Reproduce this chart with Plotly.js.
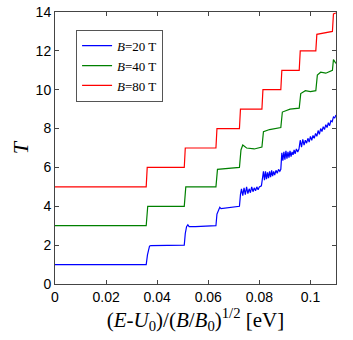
<!DOCTYPE html>
<html>
<head>
<meta charset="utf-8">
<script src="https://cdn.plot.ly/plotly-3.0.1.min.js"></script>
<style>
  html, body { margin: 0; padding: 0; background: #fff; }
  #chart { width: 353px; height: 340px; }
</style>
</head>
<body>
<div id="chart"></div>
<script>
// Transmission T vs scaled energy, three magnetic fields
const xRed = [0, 0.0357, 0.0361, 0.0506, 0.051, 0.063, 0.0634, 0.0722, 0.0726, 0.081, 0.0814,
  0.0884, 0.0888, 0.0956, 0.096, 0.1021, 0.1025, 0.106, 0.1086, 0.109, 0.11];
const yRed = [5, 5, 6, 6, 7, 7, 8, 8, 9, 9, 10,
  10, 11, 11, 12, 12, 12.85, 12.95, 13.0, 13.9, 13.95];

const xGreen = [0, 0.0357, 0.0363, 0.0506, 0.0512, 0.063, 0.0636, 0.068, 0.0722, 0.0728, 0.0735,
  0.075, 0.078, 0.081, 0.0816, 0.084, 0.0884, 0.089, 0.092, 0.0956, 0.0962, 0.098, 0.1,
  0.1021, 0.1027, 0.104, 0.106, 0.1086, 0.109, 0.11];
const yGreen = [3, 3, 4, 4, 5, 5, 5.9, 5.95, 6.0, 6.9, 7.15,
  7.0, 6.95, 7.05, 7.84, 7.95, 8.05, 8.85, 9.0, 9.05, 9.8, 9.95, 9.9,
  9.95, 10.75, 10.9, 10.85, 11.0, 11.55, 11.35];

const xBlue = [0, 0.0357, 0.0362, 0.0366, 0.037, 0.0375, 0.0506, 0.051, 0.0515, 0.052, 0.0525,
  0.055, 0.06, 0.063, 0.0634, 0.064, 0.0645, 0.065, 0.068, 0.0722, 0.0726, 0.073, 0.0735,
  0.074, 0.0745, 0.075, 0.0755, 0.076, 0.0765, 0.077, 0.0775, 0.078, 0.0785, 0.079, 0.0795,
  0.08, 0.0808, 0.0812, 0.0816, 0.082, 0.0824, 0.0828, 0.0832, 0.0836, 0.084, 0.0844, 0.0848,
  0.0852, 0.0856, 0.086, 0.0865, 0.087, 0.0875, 0.088, 0.0884, 0.0888, 0.0892, 0.0896, 0.09,
  0.0904, 0.0908, 0.0912, 0.0916, 0.092, 0.0924, 0.0928, 0.0932, 0.0936, 0.094, 0.0945, 0.095,
  0.0955, 0.096, 0.0965, 0.097, 0.0975, 0.098, 0.0985, 0.099, 0.0995, 0.1, 0.1005, 0.101,
  0.1015, 0.102, 0.1025, 0.103, 0.1035, 0.104, 0.1045, 0.105, 0.1055, 0.106, 0.1065, 0.107,
  0.1075, 0.108, 0.1085, 0.109, 0.1095, 0.11];
const yBlue = [1, 1, 1.5, 1.85, 1.95, 1.98, 2.0, 2.6, 2.95, 3.05, 2.95,
  2.95, 3.0, 3.0, 3.6, 3.85, 3.95, 3.88, 3.92, 4.0, 4.6, 4.9, 4.55,
  4.95, 4.6, 5.0, 4.65, 4.9, 4.7, 5.0, 4.75, 4.95, 4.8, 5.0, 4.85,
  5.0, 5.05, 5.4, 5.8, 5.35, 5.8, 5.4, 5.75, 5.45, 5.8, 5.5, 5.85,
  5.55, 5.8, 5.6, 5.85, 5.7, 5.9, 5.8, 5.9, 6.75, 6.35, 6.8, 6.4,
  6.85, 6.45, 6.8, 6.5, 6.85, 6.55, 6.8, 6.65, 6.9, 6.7, 6.95, 6.8,
  6.95, 7.4, 7.05, 7.45, 7.15, 7.4, 7.25, 7.5, 7.3, 7.6, 7.4, 7.65,
  7.5, 7.75, 7.6, 7.9, 7.7, 8.0, 7.85, 8.1, 7.95, 8.2, 8.05, 8.3,
  8.15, 8.4, 8.35, 8.6, 8.55, 8.7];

const seriesNames = ['<i>B</i>=20 T', '<i>B</i>=40 T', '<i>B</i>=80 T'];
const seriesColors = ['#0000ff', '#008000', '#ff0000'];
const xTicks = [0, 0.02, 0.04, 0.06, 0.08, 0.1];
const yTicks = [0, 2, 4, 6, 8, 10, 12, 14];

const xs = [xBlue, xGreen, xRed];
const ys = [yBlue, yGreen, yRed];

const traces = xs.map((x, i) => ({
  type: 'scatter',
  mode: 'lines',
  x: x,
  y: ys[i],
  name: seriesNames[i],
  line: { color: seriesColors[i], width: 1.2 }
}));

const axisCommon = {
  showline: true,
  linecolor: '#444',
  linewidth: 1,
  mirror: 'ticks',
  ticks: 'inside',
  ticklen: 4,
  tickcolor: '#444',
  showgrid: false,
  zeroline: false,
  tickfont: { family: 'Liberation Sans, Arial, sans-serif', size: 14, color: '#000' }
};

const layout = {
  width: 353,
  height: 340,
  margin: { l: 55, r: 17, t: 12, b: 56 },
  paper_bgcolor: '#fff',
  plot_bgcolor: '#fff',
  showlegend: true,
  legend: {
    x: 0.075, y: 0.935, xanchor: 'left', yanchor: 'top',
    bgcolor: '#fff', bordercolor: '#555', borderwidth: 1,
    font: { family: 'Liberation Serif, Times New Roman, serif', size: 13, color: '#000' },
    itemwidth: 30, tracegroupgap: 0
  },
  xaxis: Object.assign({}, axisCommon, {
    range: [0, 0.11],
    tickvals: xTicks,
    ticktext: xTicks.map(String),
    title: {
      text: '(<i>E</i>-<i>U</i><sub>0</sub>)/(<i>B</i>/<i>B</i><sub>0</sub>)<sup>1/2</sup> [eV]',
      font: { family: 'Liberation Serif, Times New Roman, serif', size: 21, color: '#000' },
      standoff: 4
    }
  }),
  yaxis: Object.assign({}, axisCommon, {
    range: [0, 14],
    tickvals: yTicks,
    title: {
      text: '<i>T</i>',
      font: { family: 'Liberation Serif, Times New Roman, serif', size: 22, color: '#000' },
      standoff: 0
    }
  })
};

Plotly.newPlot('chart', traces, layout, { displayModeBar: false, staticPlot: true });
</script>
</body>
</html>
